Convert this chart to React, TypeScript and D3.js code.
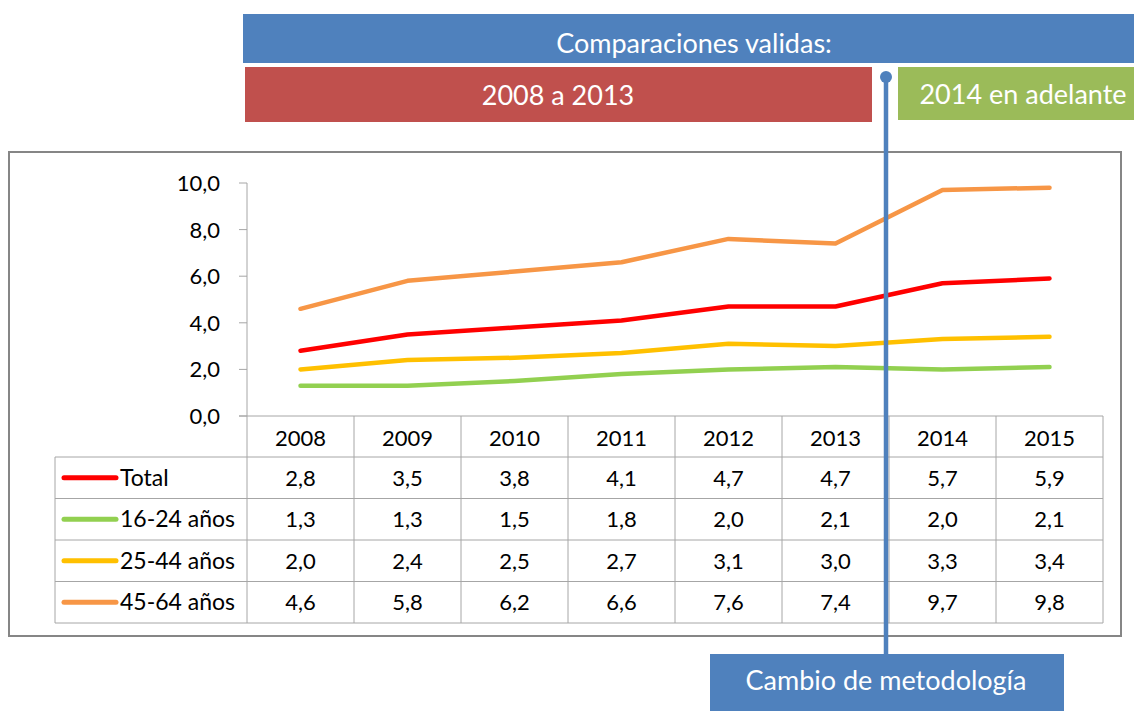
import React from "react";
import * as d3 from "d3";

const years = ["2008", "2009", "2010", "2011", "2012", "2013", "2014", "2015"];
const seriesNames = ["Total", "16-24 años", "25-44 años", "45-64 años"];
const seriesColors = ["#FF0000", "#92D050", "#FFC000", "#F79646"];
const totalVals = [2.8, 3.5, 3.8, 4.1, 4.7, 4.7, 5.7, 5.9];
const age1624 = [1.3, 1.3, 1.5, 1.8, 2.0, 2.1, 2.0, 2.1];
const age2544 = [2.0, 2.4, 2.5, 2.7, 3.1, 3.0, 3.3, 3.4];
const age4564 = [4.6, 5.8, 6.2, 6.6, 7.6, 7.4, 9.7, 9.8];
const yTicks = [0, 2, 4, 6, 8, 10];

const W = 1134, H = 711;
const FONT = "Lato, 'Open Sans', sans-serif";
const fmt = (v: number) => v.toFixed(1).replace(".", ",");

export default function App() {
  const series = [totalVals, age1624, age2544, age4564];
  const plotLeft = 247, plotRight = 1103;
  const yTop = 183, yBottom = 416;
  const x = d3.scaleBand<string>().domain(years).range([plotLeft, plotRight]);
  const y = d3.scaleLinear().domain([0, 10]).range([yBottom, yTop]);
  const cx = (yr: string) => (x(yr) as number) + x.bandwidth() / 2;
  const line = d3.line<number>().x((_, i) => cx(years[i])).y((d) => y(d));

  const legendLeft = 55;
  const rowH = 41.5;
  const headerBottom = 457;
  const rowTops = seriesNames.map((_, i) => headerBottom + i * rowH);
  const tableBottom = headerBottom + seriesNames.length * rowH;
  const grid = "#A6A6A6";
  const blue = "#4F81BD";
  const cutX = 886;

  return (
    <svg width={W} height={H} style={{ position: "absolute", left: 0, top: 0, background: "#fff" }} fontFamily={FONT}>
      {/* banners */}
      <rect x={243} y={14} width={W - 243} height={49} fill={blue} />
      <text x={694} y={53} fill="#fff" fontSize={27} textAnchor="middle">Comparaciones validas:</text>
      <rect x={245} y={67} width={627} height={55} fill="#C0504D" />
      <text x={558} y={105} fill="#fff" fontSize={27} textAnchor="middle">2008 a 2013</text>
      <rect x={898} y={67} width={W - 898} height={53} fill="#9BBB59" />
      <text x={1023} y={104} fill="#fff" fontSize={27} textAnchor="middle">2014 en adelante</text>

      {/* frame */}
      <rect x={9} y={152} width={1112} height={484} fill="#fff" stroke="#868686" strokeWidth={2} />

      {/* y axis */}
      <line x1={plotLeft} x2={plotLeft} y1={yTop} y2={yBottom} stroke={grid} />
      {yTicks.map((t) => (
        <g key={t}>
          <line x1={plotLeft - 8} x2={plotLeft} y1={y(t)} y2={y(t)} stroke={grid} />
          <text x={220} y={y(t) + 8} fontSize={22} textAnchor="end" fill="#000">{fmt(t)}</text>
        </g>
      ))}
      <line x1={plotLeft - 8} x2={plotRight} y1={yBottom} y2={yBottom} stroke={grid} />

      {/* table grid */}
      {years.map((yr) => (
        <line key={"v" + yr} x1={(x(yr) as number)} x2={(x(yr) as number)} y1={yBottom} y2={tableBottom} stroke={grid} />
      ))}
      <line x1={plotRight} x2={plotRight} y1={yBottom} y2={tableBottom} stroke={grid} />
      <line x1={legendLeft} x2={legendLeft} y1={headerBottom} y2={tableBottom} stroke={grid} />
      {[...rowTops, tableBottom].map((ry, i) => (
        <line key={"h" + i} x1={legendLeft} x2={plotRight} y1={ry} y2={ry} stroke={grid} />
      ))}
      {years.map((yr) => (
        <text key={"yl" + yr} x={cx(yr)} y={446} fontSize={22} textAnchor="middle" fill="#000">{yr}</text>
      ))}
      {series.map((vals, si) => (
        <g key={"row" + si}>
          <line x1={64} x2={116} y1={rowTops[si] + rowH / 2} y2={rowTops[si] + rowH / 2} stroke={seriesColors[si]} strokeWidth={5} strokeLinecap="round" />
          <text x={120} y={rowTops[si] + rowH / 2 + 8} fontSize={23} fill="#000">{seriesNames[si]}</text>
          {vals.map((v, i) => (
            <text key={i} x={cx(years[i])} y={rowTops[si] + rowH / 2 + 8} fontSize={22} textAnchor="middle" fill="#000">{fmt(v)}</text>
          ))}
        </g>
      ))}

      {/* lines */}
      {series.map((vals, si) => (
        <path key={"l" + si} d={line(vals) || ""} fill="none" stroke={seriesColors[si]} strokeWidth={4.5} strokeLinejoin="round" strokeLinecap="round" />
      ))}

      {/* methodology change marker */}
      <line x1={cutX} x2={cutX} y1={77} y2={656} stroke={blue} strokeWidth={4.5} />
      <circle cx={cutX} cy={77} r={6} fill={blue} />
      <rect x={710} y={654} width={354} height={57} fill={blue} />
      <text x={886} y={690} fill="#fff" fontSize={27} textAnchor="middle">Cambio de metodología</text>
    </svg>
  );
}
